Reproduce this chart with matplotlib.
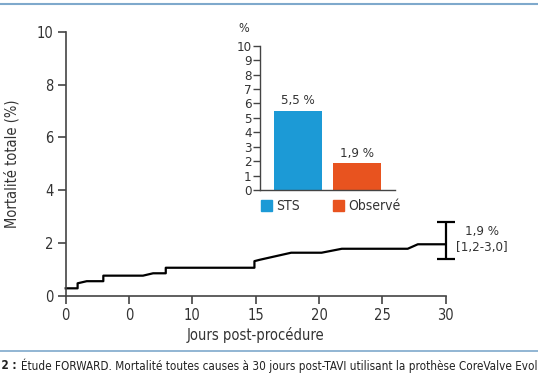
import matplotlib
matplotlib.use("Agg")
import matplotlib.pyplot as plt
from matplotlib.patches import Rectangle

# courbe de mortalite
days = [0, 0.94, 0.94, 1.66, 2.97, 2.97, 6.1, 6.9, 7.9, 7.9, 14.9, 14.9, 15.3,
        17.8, 20.2, 21.8, 27.0, 27.8, 30]
mortality = [0.28, 0.28, 0.47, 0.55, 0.55, 0.76, 0.76, 0.85, 0.85, 1.06, 1.06,
             1.31, 1.36, 1.63, 1.63, 1.78, 1.78, 1.95, 1.95]
ci_low, ci_high = 1.4, 2.8
x_ticks = [0, 5, 10, 15, 20, 25, 30]
x_labels = ["0", "0", "10", "15", "20", "25", "30"]
y_ticks = [0, 2, 4, 6, 8, 10]

# encart
bar_names = ["STS", "Observé"]
bar_values = [5.5, 1.85]
bar_labels = ["5,5 %", "1,9 %"]
bar_colors = ["#1c9ad6", "#e8531f"]

W, H = 538, 384
plt.rcParams['font.family'] = ['DejaVu Sans']
plt.rcParams['font.stretch'] = 'condensed'
txt = "#333333"

fig = plt.figure(figsize=(W / 100, H / 100), dpi=100)
fig.patch.set_facecolor("white")

# lignes bleues haut / bas
fig.add_artist(plt.Line2D([0, 1], [1 - 4 / H, 1 - 4 / H], color="#7fa9cc", lw=1.5))
fig.add_artist(plt.Line2D([0, 1], [1 - 351 / H, 1 - 351 / H], color="#7fa9cc", lw=1.2))

x0, x1 = 65.7, 445.7
y0, y1 = 295.7, 32
ax = fig.add_axes([x0 / W, 1 - y0 / H, (x1 - x0) / W, (y0 - y1) / H])
ax.plot(days, mortality, color="black", lw=1.6, clip_on=False)
ax.errorbar([30], [(ci_low + ci_high) / 2], yerr=[[(ci_high - ci_low) / 2]],
            fmt="none", ecolor="black", elinewidth=1.6, capsize=6.5,
            capthick=1.6, clip_on=False)
ax.set_xlim(0, 30)
ax.set_ylim(0, 10)
ax.set_xticks(x_ticks)
ax.set_xticklabels(x_labels)
ax.set_yticks(y_ticks)
for s in ["top", "right"]:
    ax.spines[s].set_visible(False)
for s in ["left", "bottom"]:
    ax.spines[s].set_color("#444444")
    ax.spines[s].set_linewidth(1.2)
ax.tick_params(direction="out", length=6, width=1.2, color="#444444",
               labelsize=10.5, labelcolor=txt, pad=3)
ax.set_xlabel("Jours post-procédure", fontsize=10.5, color=txt, labelpad=3)
ax.set_ylabel("Mortalité totale (%)", fontsize=10.5, color=txt, labelpad=12)
fig.text(482 / W, 1 - 239 / H, "1,9 %\n[1,2-3,0]", fontsize=9.5,
         color=txt, ha="center", va="center", linespacing=1.3)

# encart barres
ix0, ix1 = 260, 395
iy0, iy1 = 190, 45.7
ins = fig.add_axes([ix0 / W, 1 - iy0 / H, (ix1 - ix0) / W, (iy0 - iy1) / H])
ins.bar(range(len(bar_values)), bar_values, width=0.81, color=bar_colors)
for i, (v, lab) in enumerate(zip(bar_values, bar_labels)):
    ins.text(i, v + 0.25, lab, ha="center", va="bottom", fontsize=9.5, color=txt)
ins.set_xlim(-0.65, 1.64)
ins.set_ylim(0, 10)
ins.set_yticks(range(11))
ins.set_xticks([])
for s in ["top", "right"]:
    ins.spines[s].set_visible(False)
for s in ["left", "bottom"]:
    ins.spines[s].set_color("#444444")
    ins.spines[s].set_linewidth(1.0)
ins.tick_params(axis="y", direction="out", length=5, width=1.0, color="#444444",
                labelsize=9.5, labelcolor=txt, pad=1)
ins.patch.set_alpha(0)
fig.text(244 / W, 1 - 28 / H, "%", fontsize=9, color=txt, ha="center", va="center")

# legende
leg_x = [261, 333]
for lx, name, c in zip(leg_x, bar_names, bar_colors):
    fig.add_artist(Rectangle((lx / W, 1 - 211 / H), 10.5 / W, 11 / H,
                             color=c, transform=fig.transFigure))
    fig.text((lx + 15) / W, 1 - 206 / H, name, fontsize=10, color=txt,
             ha="left", va="center")

# legende de la figure
fig.text(17 / W, 1 - 366 / H, "g. 2 :", fontsize=8.5, color="#222222",
         fontweight="bold", ha="right", va="center")
fig.text(21 / W, 1 - 366 / H,
         "Étude FORWARD. Mortalité toutes causes à 30 jours post-TAVI utilisant la prothèse CoreValve Evolut R",
         fontsize=8.35, color="#222222", ha="left", va="center")

fig.savefig("out.png", dpi=100)
